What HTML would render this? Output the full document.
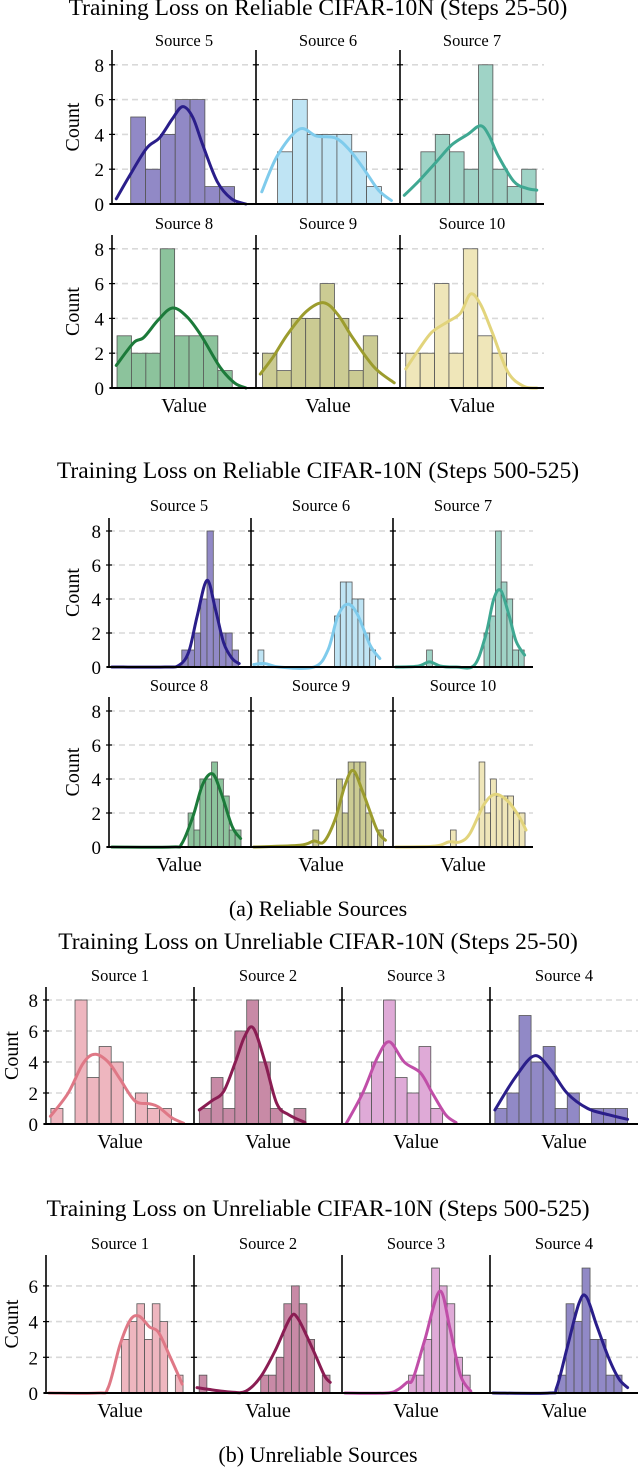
<!DOCTYPE html>
<html><head><meta charset="utf-8"><title>Training loss histograms</title>
<style>
html,body{margin:0;padding:0;background:#fff;}
svg{display:block;font-family:"Liberation Serif",serif;}
</style></head>
<body>
<svg id="fig" width="640" height="1470" viewBox="0 0 640 1470" xmlns="http://www.w3.org/2000/svg"></svg>
<script>
// ---------- DATA (value axis in panel fraction 0..1, counts) ----------
// Reliable, steps 25-50
const a5Start = 0.13,  a5Width = 0.103, a5Counts = [5,2,4,6,6,1,1];
const a5KdeX = [0.03,0.12,0.24,0.33,0.42,0.49,0.56,0.63,0.73,0.83,0.93];
const a5KdeY = [0.3,1.6,3.2,3.8,4.9,5.6,5.0,3.4,1.3,0.3,0];
const a6Start = 0.15,  a6Width = 0.103, a6Counts = [3,6,4,4,4,3,1];
const a6KdeX = [0.04,0.15,0.3,0.42,0.55,0.65,0.75,0.85,0.94];
const a6KdeY = [0.7,2.8,4.3,3.9,3.8,3.1,2.0,0.8,0.2];
const a7Start = 0.145, a7Width = 0.1,   a7Counts = [3,4,3,2,8,2,1,2];
const a7KdeX = [0.03,0.14,0.25,0.36,0.47,0.56,0.62,0.68,0.79,0.88,0.95];
const a7KdeY = [0.5,1.4,2.4,3.4,4.0,4.5,3.9,2.8,1.3,0.9,0.8];
const a8Start = 0.035, a8Width = 0.1,   a8Counts = [3,2,2,8,3,3,3,1];
const a8KdeX = [0.03,0.15,0.22,0.32,0.42,0.52,0.62,0.75,0.85,0.93];
const a8KdeY = [1.3,2.6,2.9,3.9,4.6,4.1,3.0,1.2,0.3,0];
const a9Start = 0.045, a9Width = 0.1,   a9Counts = [2,1,4,4,6,4,1,3];
const a9KdeX = [0.03,0.12,0.22,0.35,0.47,0.57,0.67,0.82,0.96];
const a9KdeY = [0.8,1.8,3.1,4.4,4.9,4.2,2.9,1.2,0.3];
const a10Start = 0.04, a10Width = 0.1,  a10Counts = [2,2,6,2,8,3,2];
const a10KdeX = [0.04,0.13,0.22,0.33,0.42,0.49,0.56,0.64,0.75,0.86,0.95];
const a10KdeY = [1.1,2.2,3.2,3.8,4.3,5.4,4.8,3.2,0.9,0.1,0];
// Reliable, steps 500-525
const b5Start = 0.52,  b5Width = 0.045, b5Counts = [1,1,2,4,8,4,2,2,1];
const b5KdeX = [0.02,0.4,0.5,0.57,0.63,0.7,0.76,0.82,0.88,0.93];
const b5KdeY = [0,0,0.1,0.9,3.0,5.1,3.4,1.4,0.5,0.2];
const b6Start = 0.05,  b6Width = 0.042, b6Counts = [1,0,0,0,0,0,0,0,0,0,0,0,0,3,5,5,4,4,2,1];
const b6KdeX = [0.02,0.1,0.2,0.45,0.55,0.62,0.69,0.76,0.85,0.92];
const b6KdeY = [0.15,0.2,0,0,1.0,3.0,3.7,3.1,1.3,0.5];
const b7Start = 0.24,  b7Width = 0.041, b7Counts = [1,0,0,0,0,0,0,0,0,0,2,3,8,5,4,1,1];
const b7KdeX = [0.02,0.18,0.26,0.34,0.45,0.58,0.66,0.72,0.77,0.83,0.88,0.94];
const b7KdeY = [0,0.05,0.3,0.05,0,0.1,1.8,4.0,4.5,3.0,1.5,0.7];
const b8Start = 0.565, b8Width = 0.042, b8Counts = [2,1,4,4,5,4,3,1,1];
const b8KdeX = [0.02,0.45,0.52,0.6,0.67,0.74,0.8,0.88,0.94];
const b8KdeY = [0,0,0.2,1.8,3.7,4.3,3.2,1.2,0.5];
const b9Start = 0.442, b9Width = 0.042, b9Counts = [1,0,0,0,4,2,5,5,5,2,0,1];
const b9KdeX = [0.02,0.35,0.45,0.52,0.6,0.67,0.73,0.8,0.9,0.96];
const b9KdeY = [0,0.1,0.35,0.3,1.6,3.6,4.5,3.2,1.0,0.4];
const b10Start = 0.41, b10Width = 0.041, b10Counts = [1,0,0,0,0,5,2,4,3,3,3,2,2];
const b10KdeX = [0.02,0.3,0.4,0.48,0.55,0.65,0.73,0.82,0.9,0.95];
const b10KdeY = [0,0.05,0.3,0.3,0.8,2.5,3.1,2.7,1.8,1.0];
// Unreliable, steps 25-50
const c1Start = 0.033, c1Width = 0.0815, c1Counts = [1,0,8,3,5,4,0,2,1,1];
const c1KdeX = [0.03,0.15,0.25,0.33,0.42,0.5,0.6,0.7,0.76,0.85,0.93];
const c1KdeY = [0.5,2.0,3.9,4.5,4.0,2.9,1.5,1.3,1.1,0.4,0.05];
const c2Start = 0.036, c2Width = 0.08,  c2Counts = [1,3,1,6,8,4,1,0,1];
const c2KdeX = [0.036,0.12,0.2,0.28,0.34,0.4,0.48,0.56,0.64,0.75];
const c2KdeY = [0.9,1.5,2.1,4.0,5.6,6.2,4.0,1.3,0.6,0.1];
const c3Start = 0.12,  c3Width = 0.08,  c3Counts = [2,4,8,3,2,5,1];
const c3KdeX = [0.03,0.14,0.24,0.32,0.42,0.53,0.61,0.7,0.77];
const c3KdeY = [0.05,2.0,4.3,5.3,4.0,3.3,2.0,0.6,0.1];
const c4Start = 0.033, c4Width = 0.0815, c4Counts = [1,2,7,4,5,1,2,0,1,1,1];
const c4KdeX = [0.033,0.17,0.3,0.41,0.52,0.66,0.8,0.93];
const c4KdeY = [0.9,3.0,4.4,3.5,2.0,1.0,0.6,0.3];
// Unreliable, steps 500-525
const d1Start = 0.51,  d1Width = 0.052, d1Counts = [3,4,5,3,5,4,0,1];
const d1KdeX = [0.02,0.35,0.42,0.5,0.57,0.63,0.7,0.76,0.84,0.92];
const d1KdeY = [0,0,0.3,2.7,4.1,4.3,3.7,3.4,2.0,0.5];
const d2Start = 0.035, d2Width = 0.052, d2Counts = [1,0,0,0,0,0,0,0,1,1,2,5,6,5,3,0,1];
const d2KdeX = [0.02,0.1,0.25,0.35,0.45,0.55,0.65,0.7,0.8,0.88,0.92];
const d2KdeY = [0.3,0.2,0.05,0.1,0.9,2.4,4.2,4.2,2.5,1.0,0.6];
const d3Start = 0.45,  d3Width = 0.052, d3Counts = [1,1,3,7,6,5,2,1];
const d3KdeX = [0.02,0.3,0.38,0.44,0.48,0.56,0.66,0.73,0.8,0.87];
const d3KdeY = [0,0,0.2,0.6,0.8,3.0,5.7,3.6,1.0,0.1];
const d4Start = 0.46,  d4Width = 0.054, d4Counts = [1,5,4,7,3,3,1,1];
const d4KdeX = [0.02,0.4,0.45,0.52,0.6,0.65,0.72,0.8,0.87,0.93];
const d4KdeY = [0,0,0.3,2.5,5.0,5.4,3.8,2.0,0.8,0.3];

const ticksABC = [0,2,4,6,8];
const ticksD = [0,2,4,6];

// ---------- COLOURS ----------
const C = {
  purple:{f:'#9189c6',l:'#2a1e8a'}, lblue:{f:'#bfe4f4',l:'#7fcbec'}, teal:{f:'#9fd3c6',l:'#3fa892'},
  green:{f:'#8cc39c',l:'#1c7a3a'}, olive:{f:'#cbcb93',l:'#9c9c2e'}, yellow:{f:'#efe6b9',l:'#e2d47c'},
  pink:{f:'#eeb6bf',l:'#df7886'}, wine:{f:'#c88aa6',l:'#8a1d53'}, orchid:{f:'#dfaad7',l:'#c04ea8'}
};

const NS = 'http://www.w3.org/2000/svg';
const svg = document.getElementById('fig');
function mk(tag, attrs, parent){
  const e = document.createElementNS(NS, tag);
  for (const k in attrs) e.setAttribute(k, attrs[k]);
  (parent||svg).appendChild(e);
  return e;
}
function txt(s, x, y, size, anchor, parent, rot){
  const t = mk('text', {x:x, y:y, 'font-size':size, 'text-anchor':anchor||'middle', fill:'#000'}, parent);
  if (rot) t.setAttribute('transform', 'rotate(-90 '+x+' '+y+')');
  t.textContent = s;
  return t;
}
function smoothPath(pts){
  let d = 'M'+pts[0][0].toFixed(1)+','+pts[0][1].toFixed(1);
  for (let i=0;i<pts.length-1;i++){
    const p0=pts[Math.max(0,i-1)], p1=pts[i], p2=pts[i+1], p3=pts[Math.min(pts.length-1,i+2)];
    const c1x=p1[0]+(p2[0]-p0[0])/6, c1y=p1[1]+(p2[1]-p0[1])/6;
    const c2x=p2[0]-(p3[0]-p1[0])/6, c2y=p2[1]-(p3[1]-p1[1])/6;
    d+=' C'+c1x.toFixed(1)+','+c1y.toFixed(1)+' '+c2x.toFixed(1)+','+c2y.toFixed(1)+' '+p2[0].toFixed(1)+','+p2[1].toFixed(1);
  }
  return d;
}

function drawRow(cfg){
  const g = mk('g', {});
  
  
  const xs = cfg.lefts, W = cfg.w;
  const right = xs[xs.length-1]+W;
  const yS = v => cfg.base - v*cfg.unit;
  cfg.ticks.forEach(t=>{
    if (t===0) return;
    const gl = mk('line', {x1:xs[0], x2:right, y1:yS(t), y2:yS(t), stroke:'#d9d9d9', 'stroke-width':1.6, 'stroke-dasharray':'6,4'}, g);
    
    
  });
  cfg.panels.forEach((p, i)=>{
    const L = xs[i];
    const xS = f => L + f*W;
    const pg = mk('g', {}, g);
    
    
    const st = txt(p.label, L+W/2, cfg.sub, 16.5, 'middle', pg);
    
    
    p.counts.forEach((c, k)=>{
      if (!c) return;
      const x0 = xS(p.start + k*p.width), x1 = xS(p.start + (k+1)*p.width);
      const r = mk('rect', {x:x0, y:yS(c), width:x1-x0, height:c*cfg.unit, fill:p.col.f, stroke:'#555', 'stroke-width':0.8}, pg);
      
      
    });
    const pts = p.kx.map((x,k)=>[xS(x), yS(p.ky[k])]);
    const path = mk('path', {d:smoothPath(pts), fill:'none', stroke:p.col.l, 'stroke-width':3, 'stroke-linecap':'round'}, pg);
    
    
    const sp = mk('line', {x1:L, x2:L, y1:cfg.top, y2:cfg.base, stroke:'#000', 'stroke-width':1.6}, pg);
    
    
    cfg.ticks.forEach(t=>{
      const tk = mk('line', {x1:L-3, x2:L+3, y1:yS(t), y2:yS(t), stroke:'#000', 'stroke-width':1.2}, pg);
      
      
    });
    if (i===0){
      cfg.ticks.forEach(t=>{
        const tl = txt(String(t), L-8, yS(t)+7, 19, 'end', pg);
        
        
      });
      const cl = txt('Count', cfg.countX, (cfg.top+cfg.base)/2, 20, 'middle', pg, true);
      
      
    }
    if (cfg.value){
      const vl = txt('Value', L+W/2, cfg.value, 20, 'middle', pg);
      
      
    }
  });
  const bx = mk('line', {x1:xs[0]-2, x2:right, y1:cfg.base, y2:cfg.base, stroke:'#000', 'stroke-width':2}, g);
  
  
}
function P(label, col, start, width, counts, kx, ky){ return {label, col, start, width, counts, kx, ky}; }

function title(s, y, name, size){
  const t = txt(s, 318, y, size||23.5, 'middle');
  
  
}

title('Training Loss on Reliable CIFAR-10N (Steps 25-50)', 15, 'title-reliable-early');
drawRow({name:'row-reliable-early-1', lefts:[112,256,400], w:144, base:204, unit:17.4, top:50, sub:46, ticks:ticksABC, countX:79,
  panels:[P('Source 5',C.purple,a5Start,a5Width,a5Counts,a5KdeX,a5KdeY), P('Source 6',C.lblue,a6Start,a6Width,a6Counts,a6KdeX,a6KdeY), P('Source 7',C.teal,a7Start,a7Width,a7Counts,a7KdeX,a7KdeY)]});
drawRow({name:'row-reliable-early-2', lefts:[112,256,400], w:144, base:388, unit:17.4, top:235, sub:229, ticks:ticksABC, countX:79, value:412,
  panels:[P('Source 8',C.green,a8Start,a8Width,a8Counts,a8KdeX,a8KdeY), P('Source 9',C.olive,a9Start,a9Width,a9Counts,a9KdeX,a9KdeY), P('Source 10',C.yellow,a10Start,a10Width,a10Counts,a10KdeX,a10KdeY)]});

title('Training Loss on Reliable CIFAR-10N (Steps 500-525)', 478, 'title-reliable-late');
drawRow({name:'row-reliable-late-1', lefts:[109,251,393], w:140, base:667, unit:17, top:518, sub:511, ticks:ticksABC, countX:79,
  panels:[P('Source 5',C.purple,b5Start,b5Width,b5Counts,b5KdeX,b5KdeY), P('Source 6',C.lblue,b6Start,b6Width,b6Counts,b6KdeX,b6KdeY), P('Source 7',C.teal,b7Start,b7Width,b7Counts,b7KdeX,b7KdeY)]});
drawRow({name:'row-reliable-late-2', lefts:[109,251,393], w:140, base:847, unit:17, top:697, sub:691, ticks:ticksABC, countX:79, value:871,
  panels:[P('Source 8',C.green,b8Start,b8Width,b8Counts,b8KdeX,b8KdeY), P('Source 9',C.olive,b9Start,b9Width,b9Counts,b9KdeX,b9KdeY), P('Source 10',C.yellow,b10Start,b10Width,b10Counts,b10KdeX,b10KdeY)]});
title('(a) Reliable Sources', 916, 'caption-a', 22);

title('Training Loss on Unreliable CIFAR-10N (Steps 25-50)', 949, 'title-unreliable-early');
drawRow({name:'row-unreliable-early', lefts:[46,194,342,490], w:148, base:1124, unit:15.5, top:987, sub:981, ticks:ticksABC, countX:18, value:1148,
  panels:[P('Source 1',C.pink,c1Start,c1Width,c1Counts,c1KdeX,c1KdeY), P('Source 2',C.wine,c2Start,c2Width,c2Counts,c2KdeX,c2KdeY), P('Source 3',C.orchid,c3Start,c3Width,c3Counts,c3KdeX,c3KdeY), P('Source 4',C.purple,c4Start,c4Width,c4Counts,c4KdeX,c4KdeY)]});

title('Training Loss on Unreliable CIFAR-10N (Steps 500-525)', 1216, 'title-unreliable-late');
drawRow({name:'row-unreliable-late', lefts:[46,194,342,490], w:148, base:1393, unit:17.85, top:1255, sub:1249, ticks:ticksD, countX:18, value:1417,
  panels:[P('Source 1',C.pink,d1Start,d1Width,d1Counts,d1KdeX,d1KdeY), P('Source 2',C.wine,d2Start,d2Width,d2Counts,d2KdeX,d2KdeY), P('Source 3',C.orchid,d3Start,d3Width,d3Counts,d3KdeX,d3KdeY), P('Source 4',C.purple,d4Start,d4Width,d4Counts,d4KdeX,d4KdeY)]});
title('(b) Unreliable Sources', 1462, 'caption-b', 22);
</script>
</body></html>
